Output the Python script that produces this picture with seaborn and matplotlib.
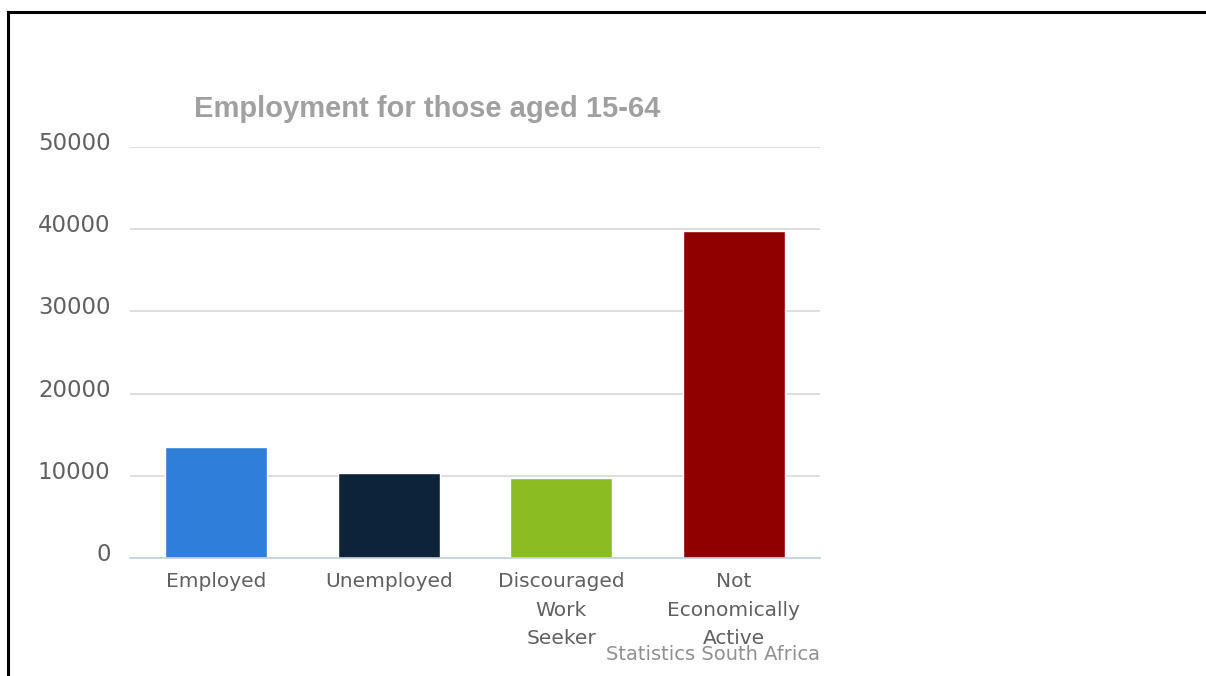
import matplotlib
matplotlib.use("Agg")
import matplotlib.pyplot as plt
import matplotlib.transforms as mtransforms
from matplotlib.lines import Line2D
import seaborn as sns
import numpy as np

categories = ["Employed", "Unemployed", "Discouraged\nWork\nSeeker", "Not\nEconomically\nActive"]
values = [13500, 10400, 9700, 39800]
colors = ["#2F7ED8", "#0D233A", "#8BBC21", "#910000"]
yticks = [0, 10000, 20000, 30000, 40000, 50000]
title = "Employment for those aged 15-64"
credit = "Statistics South Africa"

sns.set_theme(style="white")
plt.rcParams['font.family'] = ['DejaVu Sans']

W, H = 1206, 676
fig = plt.figure(figsize=(W / 100, H / 100), dpi=100)
fig.patch.set_facecolor("white")

x0, x1 = 130, 820
y_top, y_bot = 147, 558
ax = fig.add_axes([x0 / W, (H - y_bot) / H, (x1 - x0) / W, (y_bot - y_top) / H])

sns.barplot(x=categories, y=values, hue=categories, palette=colors, legend=False,
            width=0.59, edgecolor="white", linewidth=1, saturation=1, ax=ax)

ax.set_xlim(-0.5, 3.5)
ax.set_ylim(0, 50000)
ax.set_yticks(yticks)
ax.set_yticklabels([str(v) for v in yticks])
ax.set_xlabel("")
ax.set_ylabel("")
ax.set_axisbelow(True)
ax.yaxis.grid(True, color="#D8D8D8", linewidth=1.2)
ax.xaxis.grid(False)

for s in ["top", "right", "left"]:
    ax.spines[s].set_visible(False)
ax.spines["bottom"].set_color("#C0D0E0")
ax.spines["bottom"].set_linewidth(1.2)

ax.tick_params(axis="y", length=0, pad=14, labelsize=16.5, labelcolor="#606060")
ax.tick_params(axis="x", which="major", length=0, pad=10, labelsize=14.5, labelcolor="#606060")
ax.set_xticks(np.arange(-0.5, 4.0, 1.0), minor=True)
ax.tick_params(axis="x", which="minor", length=10, width=1.2, color="#C0D0E0", direction="out")

for lbl in ax.get_xticklabels():
    lbl.set_linespacing(1.65)
    lbl.set_va("top")

offset = mtransforms.ScaledTranslation(0, 6 / 100, fig.dpi_scale_trans)
for lbl in ax.get_yticklabels():
    lbl.set_transform(lbl.get_transform() + offset)

fig.text(427 / W, (H - 117) / H, title, ha="center", va="baseline",
         fontsize=21, fontweight="bold", color="#A0A0A0", family=["Liberation Sans", "DejaVu Sans"])

fig.text(820 / W, (H - 660) / H, credit, ha="right", va="baseline",
         fontsize=14, color="#909090")

# black frame (left and top)
fig.add_artist(Line2D([8 / W, 8 / W], [0, (H - 12) / H], transform=fig.transFigure,
                      color="black", linewidth=2.2, solid_capstyle="projecting"))
fig.add_artist(Line2D([8 / W, 1], [(H - 12) / H, (H - 12) / H], transform=fig.transFigure,
                      color="black", linewidth=2.2, solid_capstyle="projecting"))

fig.savefig("out.png", dpi=100, facecolor="white")
